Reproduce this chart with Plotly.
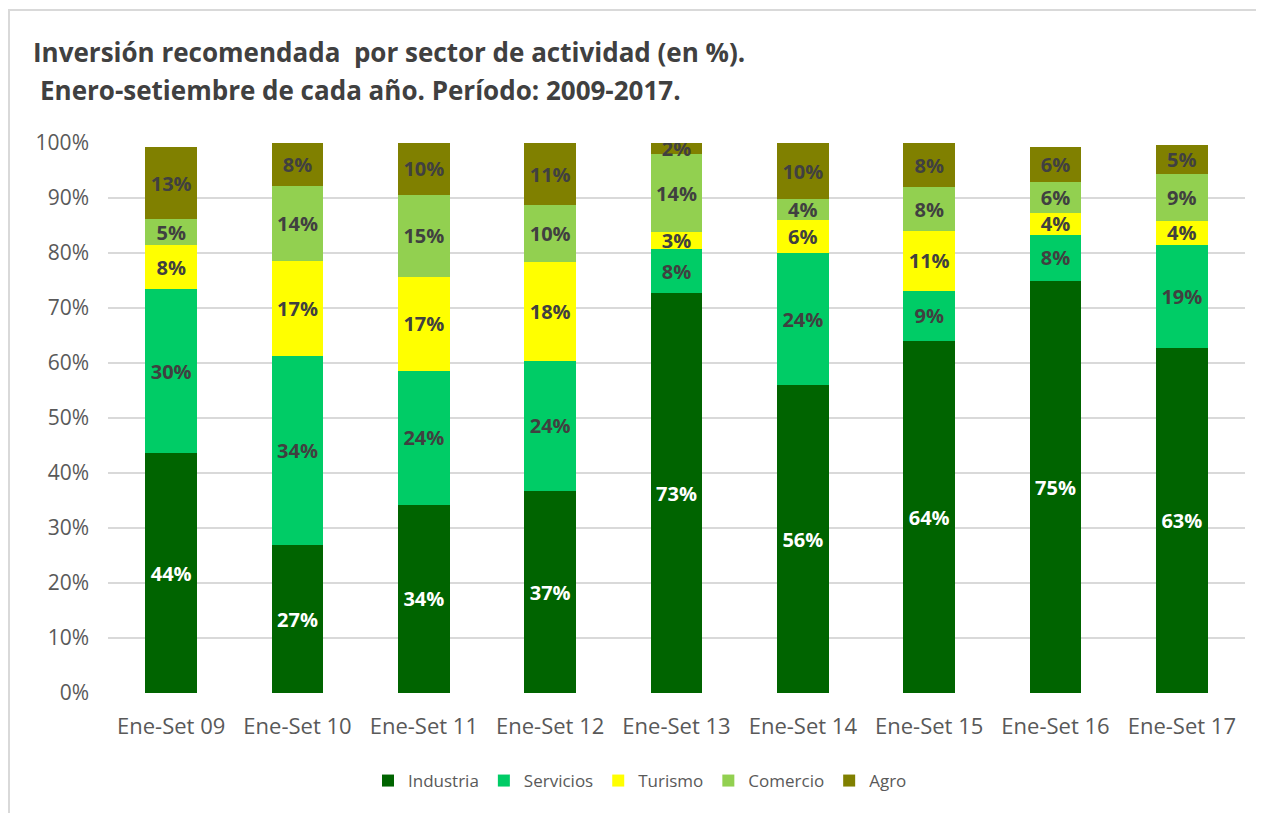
import plotly.graph_objects as go

categories = ["Ene-Set 09", "Ene-Set 10", "Ene-Set 11", "Ene-Set 12", "Ene-Set 13",
              "Ene-Set 14", "Ene-Set 15", "Ene-Set 16", "Ene-Set 17"]
industria = [43.6, 26.9, 34.2, 36.7, 72.7, 56.0, 64.0, 74.9, 62.7]
servicios = [29.8, 34.4, 24.4, 23.7, 8.0, 24.0, 9.1, 8.4, 18.8]
turismo = [8.0, 17.3, 17.1, 18.0, 3.1, 6.0, 10.9, 4.0, 4.3]
comercio = [4.7, 13.6, 14.8, 10.3, 14.2, 3.8, 8.0, 5.7, 8.6]
agro = [13.1, 7.8, 9.6, 11.3, 2.0, 10.2, 8.0, 6.3, 5.2]

series = [
    ("Industria", industria, "#006400", "#FFFFFF"),
    ("Servicios", servicios, "#00CC66", "#404040"),
    ("Turismo", turismo, "#FFFF00", "#404040"),
    ("Comercio", comercio, "#92D050", "#404040"),
    ("Agro", agro, "#808000", "#404040"),
]

fig = go.Figure()
for name, vals, color, tcolor in series:
    fig.add_trace(go.Bar(
        name=name, x=categories, y=vals,
        marker=dict(color=color, line=dict(width=0)),
        texttemplate="<b>%{y:.0f}%</b>", textposition="inside",
        insidetextanchor="middle", constraintext="none",
        textfont=dict(family="Open Sans", size=20, color=tcolor),
    ))

OFF = 8  # page body margin
W, H = 1256, 805
L, T = 108 - OFF, 143 - OFF
R = W - (1245 - OFF)
B = H - (693 - OFF)
pw, ph = W - L - R, H - T - B

def px(x):
    return (x - OFF - L) / pw

def py(y):
    return (H - B - (y - OFF)) / ph

fig.update_layout(
    barmode="stack", bargap=0.59,
    width=W, height=H,
    margin=dict(l=L, r=R, t=T, b=B),
    paper_bgcolor="white", plot_bgcolor="white",
    uniformtext=dict(minsize=20, mode="show"),
    font=dict(family="Open Sans", color="#595959"),
    xaxis=dict(showgrid=False, showline=False, ticks="", ticklabelstandoff=18,
               tickfont=dict(size=22, color="#595959")),
    yaxis=dict(range=[0, 100], dtick=10, ticksuffix="%", showgrid=True,
               gridcolor="#D9D9D9", gridwidth=1.5, zeroline=False, showline=False,
               ticklabelstandoff=18,
               tickfont=dict(size=21, color="#595959")),
    legend=dict(orientation="h", x=px(640), y=py(781), xanchor="center", yanchor="middle",
                font=dict(size=17, color="#595959"), traceorder="normal",
                itemwidth=30, itemsizing="constant"),
    shapes=[dict(type="rect", xref="paper", yref="paper",
                 x0=px(9), x1=px(1280), y0=py(840), y1=py(10),
                 line=dict(color="#D9D9D9", width=2), fillcolor="rgba(0,0,0,0)")],
    annotations=[
        dict(text="<b>Inversión recomendada  por sector de actividad (en %).</b>",
             xref="paper", yref="paper", x=px(31), y=py(52), xanchor="left", yanchor="middle",
             showarrow=False, font=dict(family="Open Sans", size=26, color="#404040")),
        dict(text="<b>Enero-setiembre de cada año. Período: 2009-2017.</b>",
             xref="paper", yref="paper", x=px(38), y=py(90), xanchor="left", yanchor="middle",
             showarrow=False, font=dict(family="Open Sans", size=26, color="#404040")),
    ],
)

fig.write_html("out.html")
